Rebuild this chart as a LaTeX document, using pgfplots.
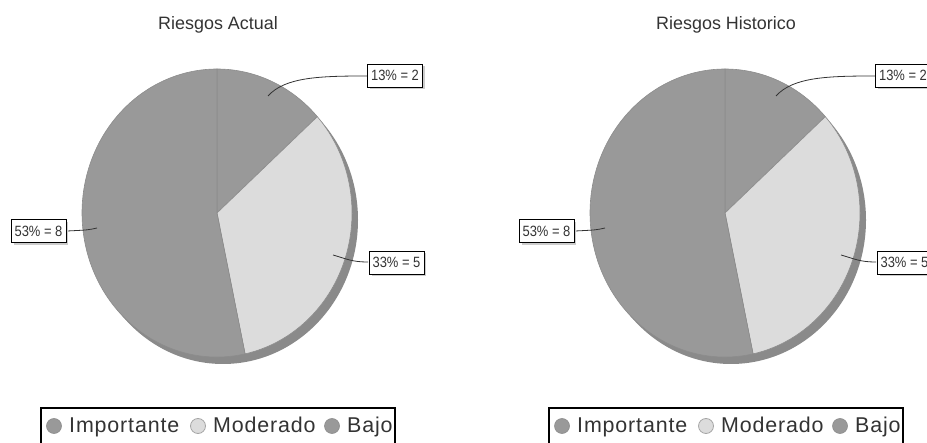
\documentclass[border=0pt]{standalone}
\usepackage{fontspec}
\setmainfont{Liberation Sans}
\newfontfamily\legendfont{Liberation Sans}[LetterSpace=4]
\usepackage{pgfplots}
\pgfplotsset{compat=1.18}
\usepackage{pgfplotstable}
\usetikzlibrary{shadows}

\definecolor{sliceDark}{HTML}{999999}
\definecolor{sliceLight}{HTML}{DCDCDC}
\definecolor{pieShadow}{HTML}{8A8A8A}
\definecolor{pieEdge}{HTML}{8C8C8C}
\definecolor{txt}{HTML}{333333}

% riesgos por nivel
\pgfplotstableread{
label      value
Importante 2
Moderado   5
Bajo       8
}\actual
\pgfplotstableread{
label      value
Importante 2
Moderado   5
Bajo       8
}\historico

\pgfplotsset{piebase/.style={width=927bp, height=443bp, scale only axis, hide axis,
  xmin=0, xmax=927, ymin=0, ymax=443, clip=false}}
\tikzset{
  wedge/.style={draw=pieEdge, line width=0.6bp},
  lbl/.style={draw=black, line width=0.8bp, fill=white, text=txt,
    font=\fontsize{13}{15}\selectfont, inner xsep=3.5bp, inner ysep=0pt,
    minimum height=23bp,
    drop shadow={shadow xshift=2.5bp, shadow yshift=-2.5bp, fill=black!20, opacity=1}},
  conn/.style={draw=txt, line width=0.8bp},
  legtxt/.style={anchor=base west, inner sep=0pt, text=txt,
    font=\legendfont\fontsize{21.5}{23}\selectfont}
}
\newcommand\lbltext[1]{\scalebox{1}[1.15]{#1}}

% angles of the slice borders, starting at 12 o'clock, clockwise
\newcommand\getangles[1]{%
  \pgfplotstablegetelem{0}{value}\of#1\edef\va{\pgfplotsretval}%
  \pgfplotstablegetelem{1}{value}\of#1\edef\vb{\pgfplotsretval}%
  \pgfplotstablegetelem{2}{value}\of#1\edef\vc{\pgfplotsretval}%
  \pgfmathsetmacro\tot{\va+\vb+\vc}%
  \pgfmathsetmacro\aa{90-360*\va/\tot}%
  \pgfmathsetmacro\ab{\aa-360*\vb/\tot}%
}

\newcommand\piebody[1]{%
  \fill[pieShadow] (223,223) ellipse[x radius=135bp, y radius=144bp];
  \filldraw[wedge, fill=sliceDark] (217,230) -- (217,374)
    arc[start angle=90, end angle=\aa, x radius=135bp, y radius=144bp] -- cycle;
  \filldraw[wedge, fill=sliceLight] (217,230) -- ({217+135*cos(\aa)},{230+144*sin(\aa)})
    arc[start angle=\aa, end angle=\ab, x radius=135bp, y radius=144bp] -- cycle;
  \filldraw[wedge, fill=sliceDark] (217,230) -- ({217+135*cos(\ab)},{230+144*sin(\ab)})
    arc[start angle=\ab, end angle=-270, x radius=135bp, y radius=144bp] -- cycle;
  % connectors and value labels
  \draw[conn] (268,347) .. controls (285,366) and (320,367) .. (367,367);
  \draw[conn] (333,188) .. controls (347,184) and (352,181) .. (368,181);
  \draw[conn] (97,215) .. controls (88,213) .. (67,212);
  \node[lbl] at (395,367.5) {\lbltext{13\% = 2}};
  \node[lbl] at (396.5,180.5) {\lbltext{33\% = 5}};
  \node[lbl] at (38.5,212) {\lbltext{53\% = 8}};
  % title
  \node[anchor=base, text=txt, font=\fontsize{18}{20}\selectfont] at (218,413.7) {#1};
  % legend
  \draw[black, line width=2bp] (41,-10) rectangle (395,34.5);
  \filldraw[fill=sliceDark, draw=pieEdge, line width=0.6bp] (54,17) circle[radius=7.5bp];
  \filldraw[fill=sliceLight, draw=black!35, line width=0.8bp] (198,17) circle[radius=7.5bp];
  \filldraw[fill=sliceDark, draw=pieEdge, line width=0.6bp] (332,17) circle[radius=7.5bp];
  \node[legtxt] at (69,10.3) {Importante};
  \node[legtxt] at (213,10.3) {Moderado};
  \node[legtxt] at (347,10.3) {Bajo};
}

\begin{document}
\begin{tikzpicture}
\getangles{\actual}
\begin{axis}[piebase]
\piebody{Riesgos Actual}
\end{axis}
\getangles{\historico}
\begin{axis}[piebase, at={(508bp,0)}]
\piebody{Riesgos Historico}
\end{axis}
\pgfresetboundingbox
\path[use as bounding box] (0,0) rectangle (927bp,443bp);
\end{tikzpicture}
\end{document}
